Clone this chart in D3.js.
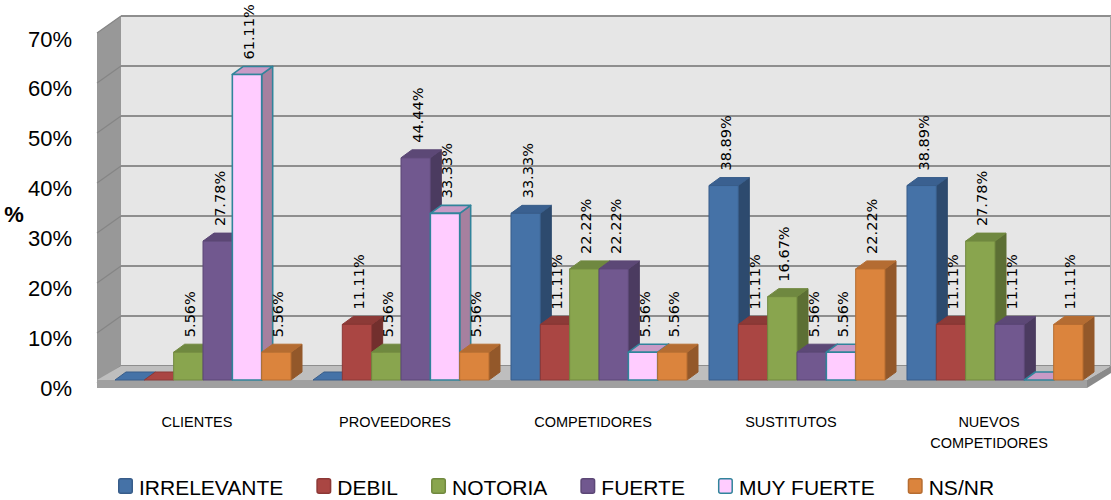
<!DOCTYPE html>
<html>
<head>
<meta charset="utf-8">
<script src="https://cdn.jsdelivr.net/npm/d3@7"></script>
<style>
  html, body { margin: 0; padding: 0; background: #ffffff; }
  svg { display: block; }
</style>
</head>
<body>
<svg id="chart" width="1111" height="500"></svg>
<script>
// Categories and series
const categories = ["CLIENTES", "PROVEEDORES", "COMPETIDORES", "SUSTITUTOS", "NUEVOS COMPETIDORES"];
const seriesNames = ["IRRELEVANTE", "DEBIL", "NOTORIA", "FUERTE", "MUY FUERTE", "NS/NR"];

// Percentages per series, one value per category
const irrelevante = [0, 0, 33.33, 38.89, 38.89];
const debil       = [0, 11.11, 11.11, 11.11, 11.11];
const notoria     = [5.56, 5.56, 22.22, 16.67, 27.78];
const fuerte      = [27.78, 44.44, 22.22, 5.56, 11.11];
const muyFuerte   = [61.11, 33.33, 5.56, 5.56, 0];
const nsnr        = [5.56, 5.56, 5.56, 22.22, 11.11];

const yTicks = [0, 10, 20, 30, 40, 50, 60, 70];

const seriesValues = [irrelevante, debil, notoria, fuerte, muyFuerte, nsnr];

// face colours: front, side, top, stroke
const palette = [
  { front: "#4572A7", side: "#2D4A6E", top: "#3A6090", stroke: "#385D8A" },
  { front: "#AA4643", side: "#722F2D", top: "#8C3A37", stroke: "#8C3836" },
  { front: "#89A54E", side: "#5C6F34", top: "#6F8840", stroke: "#71893F" },
  { front: "#71588F", side: "#4B3B60", top: "#5C4876", stroke: "#5C4776" },
  { front: "#FFCCFF", side: "#A6809F", top: "#C89AC6", stroke: "#31849B" },
  { front: "#DB843D", side: "#93582A", top: "#B46C32", stroke: "#B66D31" }
];

const svg = d3.select("#chart");

// geometry of the 3-D box
const wallLeft = 121, wallRight = 1111;
const floorDX = 24, floorDY = 14;     // wall/floor depth offset
const barDX = 11, barDY = 8;          // bar depth offset

const yBack  = d3.scaleLinear().domain([0, 70]).range([366, 16]);
const yFront = d3.scaleLinear().domain([0, 70]).range([380, 30]);
const yLabel = d3.scaleLinear().domain([0, 70]).range([388, 39]);

const x0 = d3.scaleBand().domain(categories).range([104, 1094])
  .paddingInner(0.111).paddingOuter(0.0555);
const x1 = d3.scaleBand().domain(seriesNames).range([0, x0.bandwidth()]);

const pts = a => a.map(p => p.join(",")).join(" ");

// back wall
svg.append("rect")
  .attr("x", wallLeft).attr("y", yBack(70))
  .attr("width", wallRight - wallLeft).attr("height", yBack(0) - yBack(70))
  .attr("fill", "#E6E6E6");

// left side wall
svg.append("polygon")
  .attr("points", pts([
    [wallLeft, yBack(70)], [wallLeft - floorDX, yBack(70) + floorDY + 3],
    [wallLeft - floorDX, yBack(0) + floorDY + 8], [wallLeft, yBack(0)]
  ]))
  .attr("fill", "#989898");

// gridlines on back wall and side wall
const grid = svg.append("g");
yTicks.forEach(t => {
  grid.append("line")
    .attr("x1", wallLeft).attr("x2", wallRight)
    .attr("y1", yBack(t)).attr("y2", yBack(t))
    .attr("stroke", "#8E8E8E").attr("stroke-width", 2);
  grid.append("line")
    .attr("x1", wallLeft - floorDX).attr("x2", wallLeft)
    .attr("y1", yBack(t) + floorDY + 3).attr("y2", yBack(t))
    .attr("stroke", "#858585").attr("stroke-width", 1.2);
});
svg.append("line")
  .attr("x1", wallRight - 0.5).attr("x2", wallRight - 0.5)
  .attr("y1", yBack(70)).attr("y2", yBack(0))
  .attr("stroke", "#A8A8A8").attr("stroke-width", 1);

// floor slab
const fy0 = yBack(0), fy1 = yBack(0) + floorDY;
svg.append("polygon")
  .attr("points", pts([[wallLeft, fy0], [wallRight, fy0], [wallRight - floorDX, fy1], [wallLeft - floorDX, fy1]]))
  .attr("fill", "#BEBEBE");
svg.append("polygon")
  .attr("points", pts([[wallLeft - floorDX, fy1], [wallRight - floorDX, fy1], [wallRight - floorDX, fy1 + 8], [wallLeft - floorDX, fy1 + 8]]))
  .attr("fill", "#A0A0A0");
svg.append("polygon")
  .attr("points", pts([[wallRight - floorDX, fy1], [wallRight, fy0], [wallRight, fy0 + 7], [wallRight - floorDX, fy1 + 8]]))
  .attr("fill", "#8A8A8A");

// bars
const bars = svg.append("g");
const labels = [];
categories.forEach((cat, ci) => {
  seriesNames.forEach((s, si) => {
    const v = seriesValues[si][ci];
    const c = palette[si];
    const x = x0(cat) + x1(s);
    const w = x1.bandwidth();
    const base = yFront(0);
    const top = yFront(v);
    const sw = si === 4 ? 1.6 : 1;
    const g = bars.append("g")
      .attr("stroke", c.stroke).attr("stroke-width", sw).attr("stroke-linejoin", "round");
    if (v > 0) {
      g.append("polygon")
        .attr("points", pts([[x + w, top], [x + w + barDX, top - barDY], [x + w + barDX, base - barDY], [x + w, base]]))
        .attr("fill", c.side).attr("stroke", si === 4 ? c.stroke : c.side);
      g.append("polygon")
        .attr("points", pts([[x, top], [x + barDX, top - barDY], [x + w + barDX, top - barDY], [x + w, top]]))
        .attr("fill", c.top);
      g.append("rect")
        .attr("x", x).attr("y", top).attr("width", w).attr("height", base - top)
        .attr("fill", c.front);
      labels.push({ x: x + w / 2 + 2, y: top - 15, v });
    } else {
      g.append("polygon")
        .attr("points", pts([[x, base], [x + barDX, base - barDY], [x + w + barDX, base - barDY], [x + w, base]]))
        .attr("fill", si === 4 ? c.top : c.front);
    }
  });
});

// value labels
svg.append("g").selectAll("text").data(labels).join("text")
  .attr("transform", d => `translate(${d.x},${d.y}) rotate(-90)`)
  .attr("dominant-baseline", "central")
  .attr("font-family", "DejaVu Sans, sans-serif")
  .attr("font-size", 14.5)
  .attr("fill", "#000")
  .text(d => d.v.toFixed(2) + "%");

// y axis tick labels
svg.append("g").selectAll("text").data(yTicks).join("text")
  .attr("x", 72).attr("y", d => yLabel(d))
  .attr("text-anchor", "end").attr("dominant-baseline", "central")
  .attr("font-family", "Liberation Sans, Arial, sans-serif")
  .attr("font-size", 22).attr("fill", "#000")
  .text(d => d + "%");

// y axis title
svg.append("text")
  .attr("x", 14).attr("y", 214)
  .attr("text-anchor", "middle").attr("dominant-baseline", "central")
  .attr("font-family", "Liberation Sans, Arial, sans-serif")
  .attr("font-size", 22).attr("font-weight", "bold")
  .text("%");

// category labels
const catLabels = {
  "CLIENTES": ["CLIENTES"],
  "PROVEEDORES": ["PROVEEDORES"],
  "COMPETIDORES": ["COMPETIDORES"],
  "SUSTITUTOS": ["SUSTITUTOS"],
  "NUEVOS COMPETIDORES": ["NUEVOS", "COMPETIDORES"]
};
categories.forEach(cat => {
  const t = svg.append("text")
    .attr("text-anchor", "middle")
    .attr("font-family", "Liberation Sans, Arial, sans-serif")
    .attr("font-size", 14.5).attr("fill", "#000");
  catLabels[cat].forEach((line, i) => {
    t.append("tspan")
      .attr("x", x0(cat) + x0.bandwidth() / 2 - 6)
      .attr("y", 422 + i * 21)
      .attr("dominant-baseline", "central")
      .text(line);
  });
});

// legend
const legend = svg.append("g");
let lx = 118;
seriesNames.forEach((s, si) => {
  const c = palette[si];
  legend.append("rect")
    .attr("x", lx + 0.75).attr("y", 478.75).attr("width", 13.5).attr("height", 14.5)
    .attr("rx", 2)
    .attr("fill", c.front).attr("stroke", c.stroke).attr("stroke-width", 1.5);
  const t = legend.append("text")
    .attr("x", lx + 21).attr("y", 487)
    .attr("dominant-baseline", "central")
    .attr("font-family", "Liberation Sans, Arial, sans-serif")
    .attr("font-size", 21).attr("fill", "#000")
    .text(s);
  lx += 21 + t.node().getComputedTextLength() + 33;
});
</script>
</body>
</html>
